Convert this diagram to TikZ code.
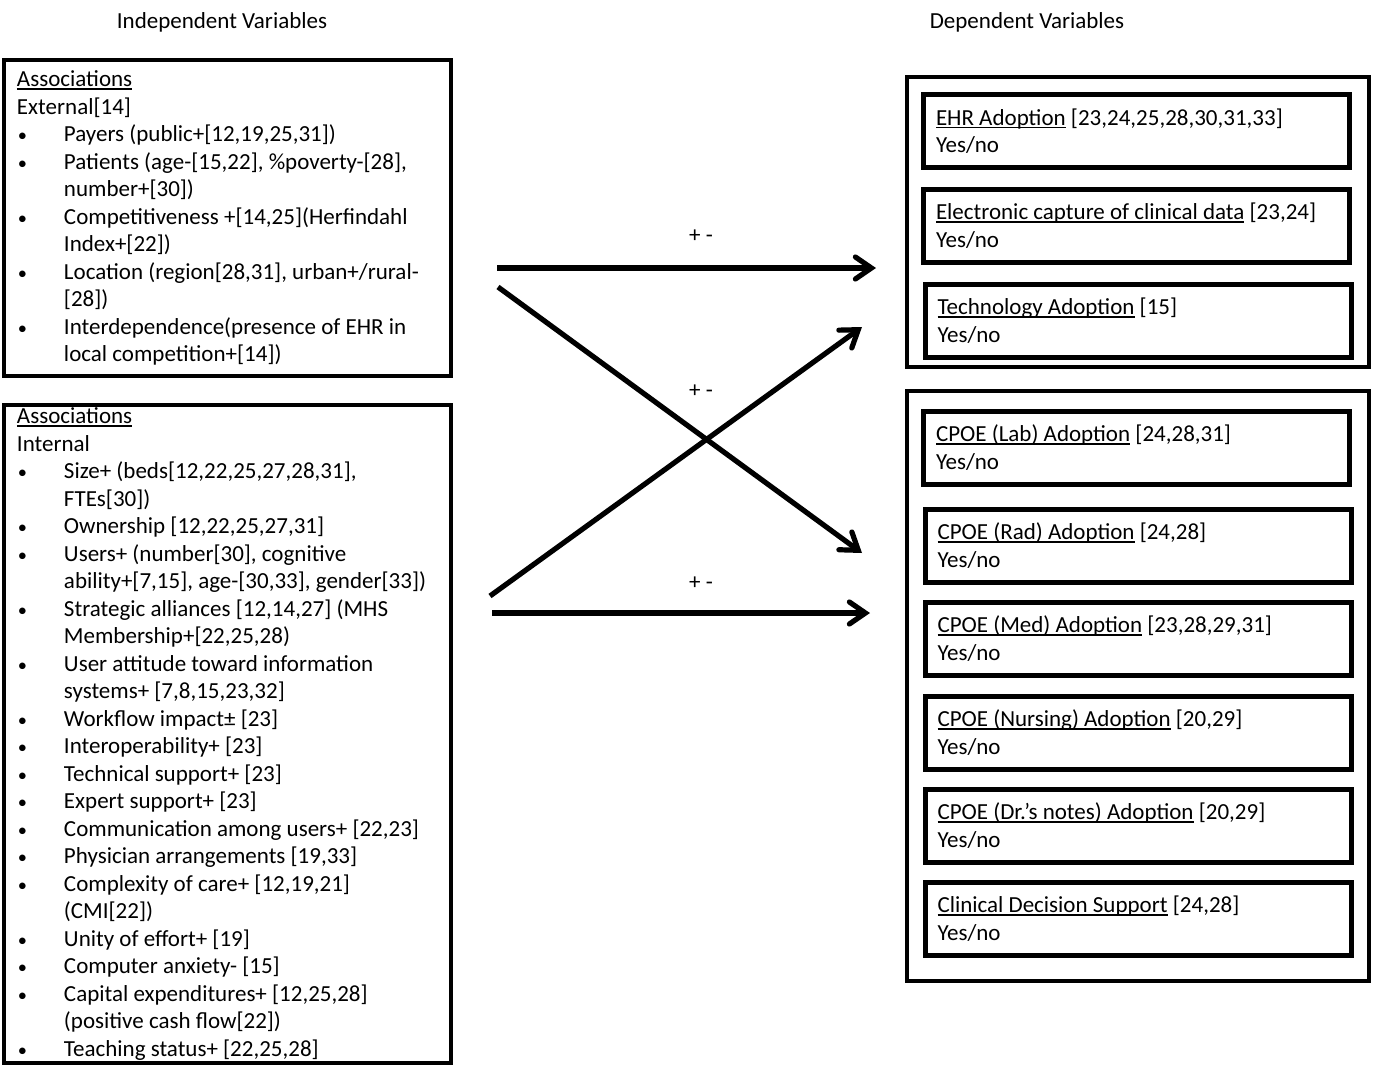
\documentclass[tikz,border=0pt]{standalone}
\usepackage{fontspec}
\setmainfont{Carlito}
\usetikzlibrary{arrows.meta}
\newsavebox{\ulbox}
\newcommand{\ulin}[1]{\sbox{\ulbox}{#1}\rlap{\rule[-1.5pt]{\wd\ulbox}{0.7pt}}\usebox{\ulbox}}
\newcommand{\bul}{\makebox[23.5pt][l]{\hspace{0.5pt}\scalebox{0.8}{•}}}
\newcommand{\ind}{\hspace*{23.5pt}}
\tikzset{
  varbox/.style={draw, line width=2pt, align=flush left, text width=210.5pt, inner xsep=6.5pt, inner ysep=0pt},
  groupbox/.style={draw, line width=2pt, minimum width=231pt, inner sep=0pt},
  outcome/.style={draw, line width=2.5pt, align=flush left, text width=200.5pt, inner xsep=6.25pt, inner ysep=0pt, minimum height=36.5pt},
  effect/.style={line width=2.6pt, -{Straight Barb[length=8pt,width=11pt,line cap=round]}}
}
\begin{document}
\begin{tikzpicture}[x=0.5pt,y=-0.5pt,font=\fontsize{11.5}{13.75}\selectfont]
\useasboundingbox (0,0) rectangle (1373,1077);
\node (indep) at (222,22) {Independent Variables};
\node (dep) at (1027,22) {Dependent Variables};
\node[varbox, minimum height=158pt] (external) at (227.5,218) {\ulin{Associations}\\
External[14]\\
\bul Payers (public+[12,19,25,31])\\
\bul Patients (age-[15,22], \%poverty-[28],\\
\ind number+[30])\\
\bul Competitiveness +[14,25](Herfindahl\\
\ind Index+[22])\\
\bul Location (region[28,31], urban+/rural-\\
\ind [28])\\
\bul Interdependence(presence of EHR in\\
\ind local competition+[14])};
\node[varbox, minimum height=329pt] (internal) at (227.5,734) {\ulin{Associations}\\
Internal\\
\bul Size+ (beds[12,22,25,27,28,31],\\
\ind FTEs[30])\\
\bul Ownership [12,22,25,27,31]\\
\bul Users+ (number[30], cognitive\\
\ind ability+[7,15], age-[30,33], gender[33])\\
\bul Strategic alliances [12,14,27] (MHS\\
\ind Membership+[22,25,28)\\
\bul User attitude toward information\\
\ind systems+ [7,8,15,23,32]\\
\bul Workflow impact± [23]\\
\bul Interoperability+ [23]\\
\bul Technical support+ [23]\\
\bul Expert support+ [23]\\
\bul Communication among users+ [22,23]\\
\bul Physician arrangements [19,33]\\
\bul Complexity of care+ [12,19,21]\\
\ind (CMI[22])\\
\bul Unity of effort+ [19]\\
\bul Computer anxiety- [15]\\
\bul Capital expenditures+ [12,25,28]\\
\ind (positive cash flow[22])\\
\bul Teaching status+ [22,25,28]};
\node[groupbox, minimum height=145pt] (ehrgroup) at (1138,222) {};
\node[groupbox, minimum height=295pt] (cpoegroup) at (1138,686) {};
\node[outcome] (ehr) at (1136.5,131) {\ulin{EHR Adoption} [23,24,25,28,30,31,33]\\ Yes/no};
\node[outcome] (capture) at (1136.5,225.5) {\ulin{Electronic capture of clinical data} [23,24]\\ Yes/no};
\node[outcome] (tech) at (1138,320.5) {\ulin{Technology Adoption} [15]\\ Yes/no};
\node[outcome] (lab) at (1136.5,447.5) {\ulin{CPOE (Lab) Adoption} [24,28,31]\\ Yes/no};
\node[outcome] (rad) at (1138,545.5) {\ulin{CPOE (Rad) Adoption} [24,28]\\ Yes/no};
\node[outcome] (med) at (1138,638.5) {\ulin{CPOE (Med) Adoption} [23,28,29,31]\\ Yes/no};
\node[outcome] (nursing) at (1138,732.5) {\ulin{CPOE (Nursing) Adoption} [20,29]\\ Yes/no};
\node[outcome] (notes) at (1138,825.5) {\ulin{CPOE (Dr.’s notes) Adoption} [20,29]\\ Yes/no};
\node[outcome] (cds) at (1138,918.5) {\ulin{Clinical Decision Support} [24,28]\\ Yes/no};
\coordinate (extA) at (497,268);
\coordinate (extB) at (498,287);
\coordinate (intA) at (490,596);
\coordinate (intB) at (492,613);
\coordinate (ehrA) at (876,268);
\coordinate (ehrB) at (862,327);
\coordinate (cpoeA) at (862,553);
\coordinate (cpoeB) at (870,613);
\draw[effect] (extA) -- (ehrA);
\draw[effect] (extB) -- (cpoeA);
\draw[effect] (intA) -- (ehrB);
\draw[effect] (intB) -- (cpoeB);
\node (signA) at (701,236) {+ -};
\node (signB) at (701,391) {+ -};
\node (signC) at (701,583) {+ -};
\end{tikzpicture}
\end{document}
